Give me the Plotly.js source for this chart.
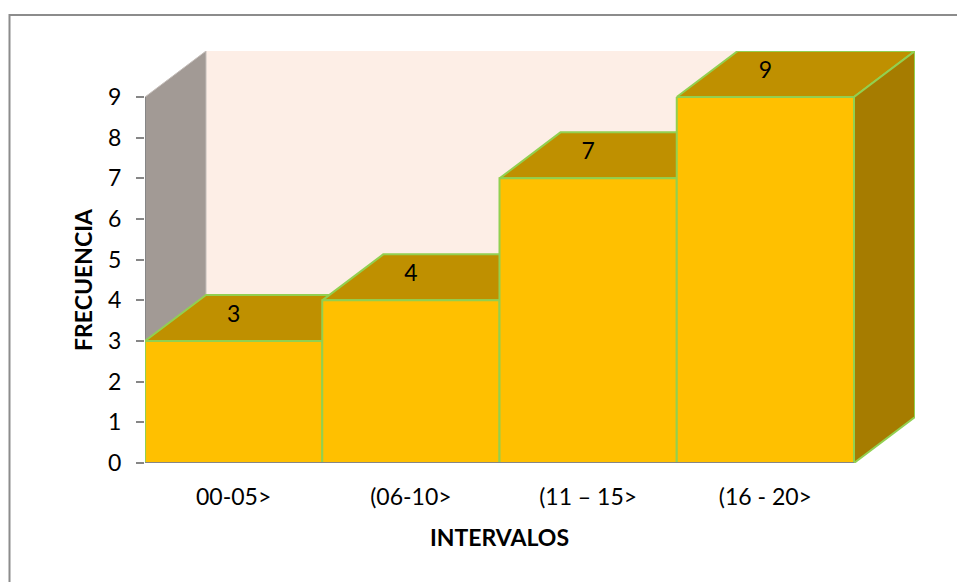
<!DOCTYPE html>
<html>
<head>
<meta charset="utf-8">
<script src="https://cdn.plot.ly/plotly-3.0.1.min.js"></script>
<style>html,body{margin:0;padding:0;background:#fff;overflow:hidden}#c{width:957px;height:582px}</style>
</head>
<body>
<div id="c"></div>
<script>
const categories = ["00-05>", "(06-10>", "(11 – 15>", "(16 - 20>"];
const frecuencia = [3, 4, 7, 9];
const yTicks = [0,1,2,3,4,5,6,7,8,9];
const xTitle = "INTERVALOS";
const yTitle = "FRECUENCIA";

const W = 957, H = 582;
const L = 145, R = 854, T = 97, B = 463;      // front plot box in page pixels
const DX = 61, DY = 46;                       // 3-D depth in pixels
const x0 = -0.5, x1 = categories.length - 0.5;
const yMax = yTicks[yTicks.length - 1];
const pxX = (R - L) / (x1 - x0), pxY = (B - T) / yMax;
const depthX = DX / pxX, depthY = DY / pxY;   // 3-D depth in data units
const idx = categories.map((c,i)=>i);

const GREEN = "#92d050", FRONT = "#ffc000", TOP = "#bf9000", SIDE = "#a67c00";
const AXIS = "#868686";
const FONT = "Lato, 'Open Sans', sans-serif";

function poly(xs, ys, fill, line, lw) {
  return {type:"scatter", mode:"lines", x:xs.concat(xs[0]), y:ys.concat(ys[0]),
    fill:"toself", fillcolor:fill, line:{color:line, width:lw},
    hoverinfo:"skip", showlegend:false, cliponaxis:false};
}
const traces = [];
// back wall and left wall (rear subplot, which includes the depth in its range)
traces.push(poly([x0+depthX, x1+depthX, x1+depthX, x0+depthX], [depthY, depthY, yMax+depthY, yMax+depthY], "#fdeee6", "#fdeee6", 1));
traces.push(poly([x0, x0+depthX, x0+depthX, x0], [0, depthY, yMax+depthY, yMax], "#a29a95", "#c5beba", 1));
// y axis line sits on the wall, under the bars
traces.push({type:"scatter", mode:"lines", x:[x0, x0], y:[0,yMax], line:{color:AXIS, width:2}, hoverinfo:"skip", showlegend:false, cliponaxis:false});
// top and side faces, back to front
frecuencia.forEach((v,i) => {
  const a = i - 0.5, b = i + 0.5;
  traces.push(poly([a, b, b+depthX, a+depthX], [v, v, v+depthY, v+depthY], TOP, GREEN, 2));
});
const last = frecuencia.length - 1;
const vL = frecuencia[last], bL = last + 0.5;
traces.push(poly([bL, bL+depthX, bL+depthX, bL], [0, depthY, vL+depthY, vL], SIDE, GREEN, 2));
// value labels on the top faces (rear subplot: its range reaches above 9)
traces.push({type:"scatter", mode:"text",
  x:idx,
  y:frecuencia.map(v=>v + 25/pxY),
  text:frecuencia.map(String), textposition:"middle center",
  textfont:{family:FONT, size:23, color:"#000"},
  hoverinfo:"skip", showlegend:false, cliponaxis:false});
// front faces, on the front subplot that carries the visible axes
traces.push({type:"bar", x:idx, y:frecuencia, width:1, xaxis:"x2", yaxis:"y2", cliponaxis:false,
  marker:{color:FRONT, line:{color:GREEN, width:2}}, hoverinfo:"skip", showlegend:false});
// floor axis line
traces.push({type:"scatter", mode:"lines", xaxis:"x2", yaxis:"y2", x:[x0, bL], y:[0,0], line:{color:AXIS, width:2}, hoverinfo:"skip", showlegend:false, cliponaxis:false});

const boxW = R - L + DX, boxH = B - T + DY;
const layout = {
  width:W, height:H, paper_bgcolor:"#fff", plot_bgcolor:"rgba(0,0,0,0)",
  margin:{l:L, r:W-R-DX, t:T-DY, b:H-B, pad:0},
  showlegend:false, barmode:"overlay",
  xaxis:{range:[x0,x1+depthX], visible:false},
  yaxis:{range:[0,yMax+depthY], visible:false},
  xaxis2:{domain:[0,(R-L)/boxW], anchor:"y2", range:[x0,x1], tickvals:idx, ticktext:categories,
    showgrid:false, zeroline:false, showline:false, ticks:"", ticklabelstandoff:18,
    tickfont:{family:FONT, size:23, color:"#000"},
    title:{text:"<b>"+xTitle+"</b>", standoff:20, font:{family:FONT, size:23, color:"#000"}}},
  yaxis2:{domain:[0,(B-T)/boxH], anchor:"x2", range:[0,yMax], tickvals:yTicks, ticktext:yTicks.map(String),
    showgrid:false, zeroline:false, showline:false, ticks:"outside", ticklen:8, tickwidth:2, tickcolor:AXIS,
    ticklabelstandoff:10,
    tickfont:{family:FONT, size:23, color:"#000"},
    title:{text:"<b>"+yTitle+"</b>", standoff:9, font:{family:FONT, size:23, color:"#000"}}},
  shapes:[{type:"rect", xref:"paper", yref:"paper", layer:"below",
    x0:(9.5-L)/boxW, x1:(965-L)/boxW, y0:(B-590)/boxH, y1:(B-15)/boxH,
    line:{color:"#8c8c8c", width:2}, fillcolor:"rgba(0,0,0,0)"}]
};
Plotly.newPlot("c", traces, layout, {displayModeBar:false, staticPlot:true});
</script>
</body>
</html>
